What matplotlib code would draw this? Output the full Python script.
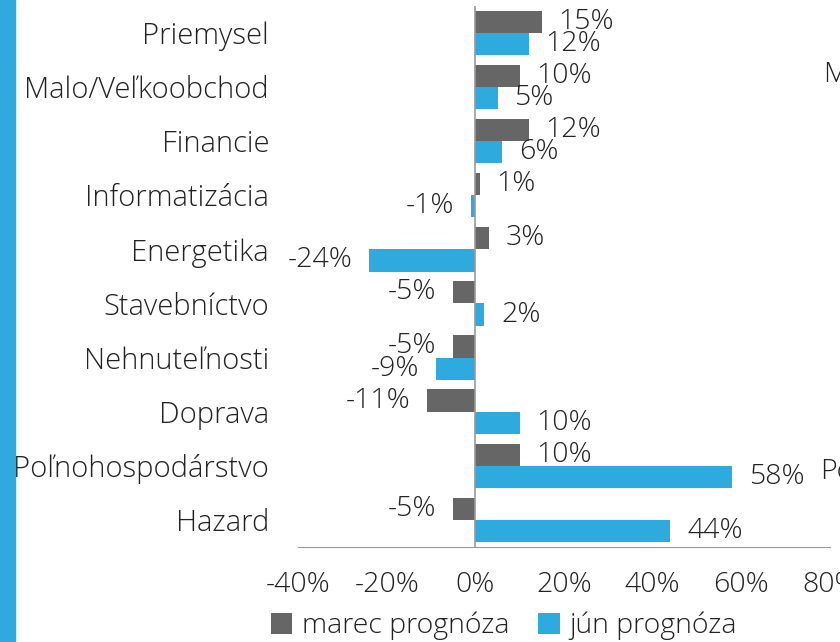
import matplotlib.pyplot as plt
import numpy as np

# odvetvia a prognozy (v %)
categories = ['Priemysel', 'Malo/Veľkoobchod', 'Financie', 'Informatizácia',
              'Energetika', 'Stavebníctvo', 'Nehnuteľnosti', 'Doprava',
              'Poľnohospodárstvo', 'Hazard']
marec = [15, 10, 12, 1, 3, -5, -5, -11, 10, -5]
jun = [12, 5, 6, -1, -24, 2, -9, 10, 58, 44]
xticks = [-40, -20, 0, 20, 40, 60, 80]

gray = '#666666'
blue = '#2FAADF'
txt = '#222222'

plt.rcParams['font.family'] = ['Open Sans', 'DejaVu Sans']
plt.rcParams['font.size'] = 20.5

fig = plt.figure(figsize=(8.4, 6.42), dpi=100)
ax = fig.add_axes([0.355, 0.148, 0.633, 0.843])

y = np.arange(len(categories))
h = 0.41
b1 = ax.barh(y - h / 2, marec, height=h, color=gray, label='marec prognóza')
b2 = ax.barh(y + h / 2, jun, height=h, color=blue, label='jún prognóza')
ax.bar_label(b1, labels=['%d%%' % v for v in marec], padding=12, color=txt, fontweight='light')
ax.bar_label(b2, labels=['%d%%' % v for v in jun], padding=12, color=txt, fontweight='light')

ax.set_xlim(-40, 80)
ax.set_ylim(len(categories) - 0.5, -0.5)
ax.set_xticks(xticks)
ax.set_xticklabels(['%d%%' % t for t in xticks], color=txt, fontweight='light')
ax.set_yticks(y)
ax.set_yticklabels(categories, color=txt, fontweight='light', fontsize=21)
ax.tick_params(axis='x', length=0, pad=17)
ax.tick_params(axis='y', length=0, pad=21)
for s in ['top', 'right', 'left']:
    ax.spines[s].set_visible(False)
ax.spines['bottom'].set_color('#999999')
ax.axvline(0, color='#999999', lw=1.2, zorder=3)

fig.legend(loc='center', bbox_to_anchor=(0.6, 0.025), ncol=2, frameon=False,
           handlelength=0.75, handleheight=0.75, handletextpad=0.35, columnspacing=1.0,
           labelcolor=txt, prop={'weight': 'light', 'size': 20.5})

# modry pruh vlavo a orezane texty susedneho grafu
fig.patches.append(plt.Rectangle((0, 0), 15 / 840, 1, transform=fig.transFigure, color=blue))
fig.text(823 / 840, 1 - 75 / 642, 'M', va='center', ha='left', color=txt, fontweight='light')
fig.text(820 / 840, 1 - 472 / 642, 'Po', va='center', ha='left', color=txt, fontweight='light')

fig.savefig('out.png', dpi=100)
